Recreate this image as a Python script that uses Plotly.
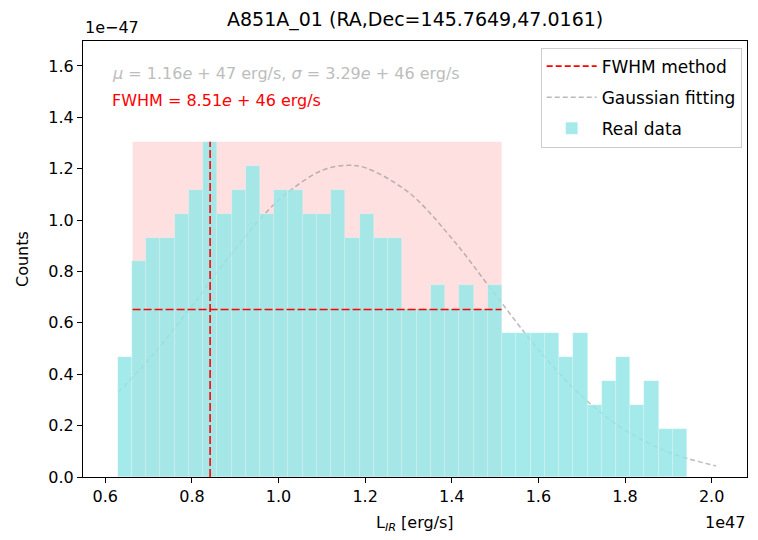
import plotly.graph_objects as go

# ---------------- data (x in units of 1e47 erg/s, y in units of 1e-47) ----------------
bin_start = 0.6284
bin_width = 0.03288
density = [0.466, 0.839, 0.932, 0.932, 1.025, 1.118, 1.305, 1.025, 1.118, 1.212,
           1.025, 1.118, 1.118, 1.025, 1.025, 1.118, 0.932, 1.025, 0.932, 0.932,
           0.652, 0.652, 0.746, 0.652, 0.746, 0.652, 0.746, 0.559, 0.559, 0.559,
           0.559, 0.466, 0.559, 0.280, 0.373, 0.466, 0.280, 0.373, 0.186, 0.186]

gauss_x = [0.63, 0.70, 0.80, 0.90, 1.00, 1.10, 1.16, 1.20, 1.30, 1.40,
           1.50, 1.60, 1.70, 1.80, 1.90, 2.01]
gauss_y = [0.330, 0.456, 0.666, 0.887, 1.077, 1.193, 1.213, 1.204, 1.108, 0.929,
           0.711, 0.496, 0.315, 0.183, 0.097, 0.043]

peak_x = 0.842
fwhm_left = 0.663
fwhm_right = 1.515
peak_height = 1.305
half_height = 0.652

x_ticks = [0.6, 0.8, 1.0, 1.2, 1.4, 1.6, 1.8, 2.0]
y_ticks = [0.0, 0.2, 0.4, 0.6, 0.8, 1.0, 1.2, 1.4, 1.6]
x_range = [0.5485, 2.0817]
y_range = [0.0, 1.697]

title_text = "A851A_01 (RA,Dec=145.7649,47.0161)"
stats_text = "<i>μ</i> = 1.16<i>e</i> + 47 erg/s, <i>σ</i> = 3.29<i>e</i> + 46 erg/s"
fwhm_text = "FWHM = 8.51<i>e</i> + 46 erg/s"

# ---------------- figure ----------------
FONT = "DejaVu Sans"
centers = [bin_start + (i + 0.5) * bin_width for i in range(len(density))]

fig = go.Figure()

# Gaussian on the base subplot (drawn first, beneath the bars)
fig.add_trace(go.Scatter(
    x=gauss_x, y=gauss_y, mode="lines", name="Gaussian fitting",
    line=dict(color="rgba(140,140,140,0.6)", width=1.5, dash="5px,3px", shape="spline"),
    legendrank=2, legendgroup="g2", hoverinfo="skip", xaxis="x", yaxis="y"))

fig.add_trace(go.Scatter(
    x=[None], y=[None], mode="lines", name="FWHM method",
    line=dict(color="red", width=1.6, dash="6px,3px"),
    legendrank=1, legendgroup="g1", xaxis="x", yaxis="y"))

# Bars on an overlaid subplot so they sit on top of the Gaussian curve
fig.add_trace(go.Bar(
    x=centers, y=density, width=[bin_width] * len(density), name="Real data",
    marker=dict(color="rgba(150,230,230,0.86)",
                line=dict(color="rgba(255,255,255,0.35)", width=0.6)),
    legendrank=3, legendgroup="g3", xaxis="x2", yaxis="y2"))

# FWHM region and lines
fig.add_shape(type="rect", xref="x", yref="y", x0=fwhm_left, x1=fwhm_right,
              y0=0, y1=peak_height, fillcolor="rgba(255,0,0,0.12)",
              line=dict(width=0), layer="below")
fig.add_shape(type="line", xref="x", yref="y", x0=peak_x, x1=peak_x,
              y0=0, y1=peak_height, line=dict(color="red", width=1.6, dash="8px,3px"),
              layer="above")
fig.add_shape(type="line", xref="x", yref="y", x0=fwhm_left, x1=fwhm_right,
              y0=half_height, y1=half_height,
              line=dict(color="red", width=1.6, dash="8px,3px"), layer="above")

axis_common = dict(showline=True, linecolor="black", linewidth=1.2, mirror=True,
                   ticks="outside", ticklen=5, tickwidth=1.2, tickcolor="black",
                   showgrid=False, zeroline=False,
                   tickfont=dict(family=FONT, size=16, color="black"))

annots = [
    dict(text=title_text, xref="paper", yref="paper", x=0.5, y=1, yshift=8,
         xanchor="center", yanchor="bottom", showarrow=False,
         font=dict(family=FONT, size=19, color="black")),
    dict(text="1e−47", xref="paper", yref="paper", x=0, y=1, yshift=2,
         xanchor="left", yanchor="bottom", showarrow=False,
         font=dict(family=FONT, size=16, color="black")),
    dict(text="1e47", xref="paper", yref="paper", x=1, y=0, yshift=-34,
         xanchor="right", yanchor="top", showarrow=False,
         font=dict(family=FONT, size=16, color="black")),
    dict(text="L<sub><i>IR</i></sub> [erg/s]", xref="paper", yref="paper", x=0.5, y=0,
         yshift=-34, xanchor="center", yanchor="top", showarrow=False,
         font=dict(family=FONT, size=16, color="black")),
    dict(text="Counts", xref="paper", yref="paper", x=0, y=0.5, xshift=-61,
         xanchor="center", yanchor="middle", textangle=-90, showarrow=False,
         font=dict(family=FONT, size=16, color="black")),
    dict(text=stats_text, xref="paper", yref="paper", x=0.041, y=0.926,
         xanchor="left", yanchor="middle", showarrow=False,
         font=dict(family=FONT, size=16, color="#bdbdbd")),
    dict(text=fwhm_text, xref="paper", yref="paper", x=0.041, y=0.864,
         xanchor="left", yanchor="middle", showarrow=False,
         font=dict(family=FONT, size=16, color="red")),
]

fig.update_layout(
    width=758, height=540,
    margin=dict(l=83, r=11, t=41, b=63),
    paper_bgcolor="white", plot_bgcolor="white",
    bargap=0, barmode="overlay",
    font=dict(family=FONT, size=16, color="black"),
    annotations=annots,
    showlegend=True,
    xaxis=dict(range=x_range, tickvals=x_ticks,
               ticktext=[f"{v:.1f}" for v in x_ticks], **axis_common),
    yaxis=dict(range=y_range, tickvals=y_ticks,
               ticktext=[f"{v:.1f}" for v in y_ticks], **axis_common),
    xaxis2=dict(overlaying="x", matches="x", range=x_range, visible=False),
    yaxis2=dict(overlaying="y", matches="y", range=y_range, visible=False),
    legend=dict(x=0.992, xanchor="right", y=0.985, yanchor="top",
                bgcolor="rgba(255,255,255,0.85)", bordercolor="#cccccc", borderwidth=1,
                font=dict(family=FONT, size=17, color="black"),
                tracegroupgap=6, itemwidth=50),
)

fig.write_html("out.html")
